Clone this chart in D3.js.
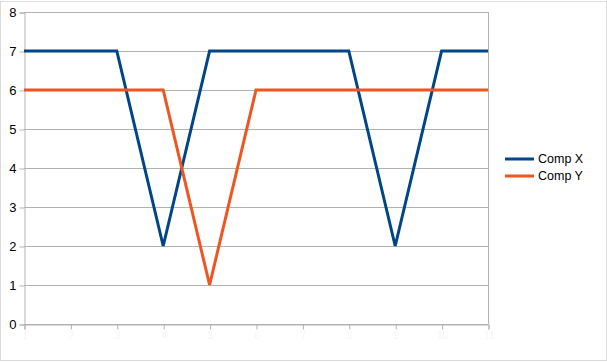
<!DOCTYPE html>
<html>
<head>
<meta charset="utf-8">
<script src="https://cdn.jsdelivr.net/npm/d3@7"></script>
<style>
  body { margin: 0; background: #fff; }
  svg { display: block; font-family: "Liberation Sans", Arial, sans-serif; }
</style>
</head>
<body>
<div id="chart"></div>
<script>
// data
const categories = ["1", "2", "3", "4", "5", "6", "7", "8", "9", "10", "11"]
const compX = [7, 7, 7, 2, 7, 7, 7, 7, 2, 7, 7]
const compY = [6, 6, 6, 6, 1, 6, 6, 6, 6, 6, 6]
const yTicks = [0, 1, 2, 3, 4, 5, 6, 7, 8]
const seriesNames = ["Comp X", "Comp Y"]
const seriesColors = ["#004586", "#ef5520"]

const width = 607
const height = 362
const margin = { top: 12, right: 119, bottom: 38, left: 24 }

const svg = d3.select("#chart")
  .append("svg")
  .attr("width", width)
  .attr("height", height)

// outer frame
svg.append("rect")
  .attr("x", 0.5).attr("y", 1.5)
  .attr("width", width - 1).attr("height", height - 3)
  .attr("fill", "none")
  .attr("stroke", "#dcdcdc")

const x = d3.scalePoint()
  .domain(categories)
  .range([margin.left, width - margin.right])

const y = d3.scaleLinear()
  .domain([0, 8])
  .range([height - margin.bottom, margin.top])

// horizontal grid
svg.append("g")
  .selectAll("line")
  .data(yTicks)
  .join("line")
  .attr("x1", margin.left)
  .attr("x2", width - margin.right)
  .attr("y1", d => Math.round(y(d)) + 0.5)
  .attr("y2", d => Math.round(y(d)) + 0.5)
  .attr("stroke", "#b3b3b3")

// right edge of plot
svg.append("line")
  .attr("x1", width - margin.right + 0.5).attr("x2", width - margin.right + 0.5)
  .attr("y1", y(8)).attr("y2", y(0))
  .attr("stroke", "#b3b3b3")

// y axis
const yAxis = svg.append("g")
  .attr("transform", `translate(${margin.left + 0.5},0.5)`)
  .call(d3.axisLeft(y).tickValues(yTicks).tickFormat(d3.format("d")).tickSize(5).tickPadding(3))
yAxis.select(".domain").attr("stroke", "#b3b3b3")
yAxis.selectAll(".tick line").attr("stroke", "#b3b3b3")
yAxis.selectAll(".tick text")
  .attr("fill", "#000")
  .attr("font-size", 13)
  .attr("font-family", "Liberation Sans, Arial, sans-serif")

// x axis (labels are almost invisible in the picture)
const xAxis = svg.append("g")
  .attr("transform", `translate(0.5,${Math.round(y(0)) + 0.5})`)
  .call(d3.axisBottom(x).tickSize(5).tickPadding(2))
xAxis.select(".domain").attr("stroke", "#b3b3b3")
xAxis.selectAll(".tick line").attr("stroke", "#b3b3b3")
xAxis.selectAll(".tick text")
  .attr("fill", "#f6f6f6")
  .attr("font-size", 10)
  .attr("font-family", "Liberation Sans, Arial, sans-serif")

const line = d3.line()
  .x((d, i) => x(categories[i]))
  .y(d => y(d))

svg.selectAll("path.series")
  .data([compX, compY])
  .join("path")
  .attr("class", "series")
  .attr("d", line)
  .attr("fill", "none")
  .attr("stroke", (d, i) => seriesColors[i])
  .attr("stroke-width", 3)
  .attr("stroke-linejoin", "miter")

// legend
const legend = svg.append("g")
  .attr("transform", "translate(505,159)")

const items = legend.selectAll("g")
  .data(seriesNames)
  .join("g")
  .attr("transform", (d, i) => `translate(0,${i * 17})`)

items.append("line")
  .attr("x1", 0).attr("x2", 29)
  .attr("y1", 0).attr("y2", 0)
  .attr("stroke", (d, i) => seriesColors[i])
  .attr("stroke-width", 3)

items.append("text")
  .attr("x", 33)
  .attr("y", 0)
  .attr("dy", "0.35em")
  .attr("font-size", 12.5)
  .attr("fill", "#000")
  .text(d => d)
</script>
</body>
</html>
